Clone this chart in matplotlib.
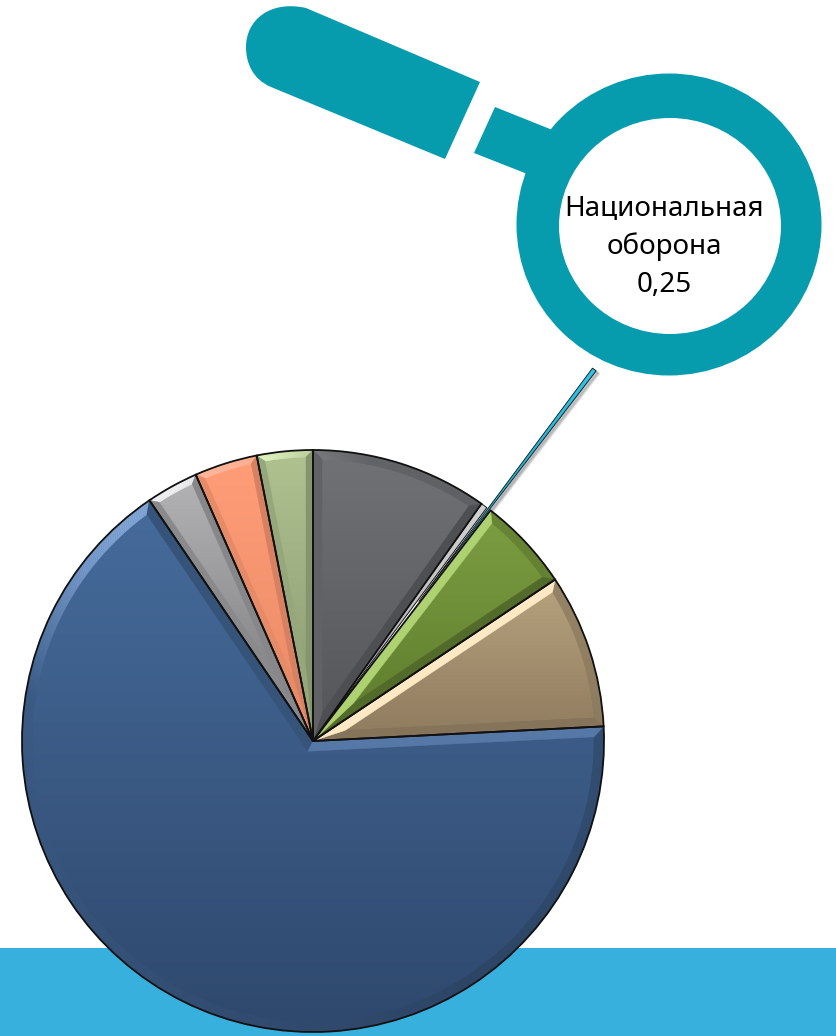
import colorsys
import numpy as np
import matplotlib
matplotlib.use("Agg")
import matplotlib.pyplot as plt
from matplotlib.patches import Ellipse, PathPatch, Polygon, Rectangle, Wedge
from matplotlib.path import Path
import matplotlib.colors as mcolors

W, H = 837, 1036
TEAL = "#069bad"

# Slice shares, clockwise from 12 o'clock
values = [9.83, 0.36, 0.25, 5.20, 8.56, 66.30, 2.90, 3.50, 3.10]
pull_out = [0, 0, 175, 0, 0, 0, 0, 0, 0]
label_lines = ["Национальная", "оборона", "0,25"]

# Gradient colours, top and bottom of each slice
top_colors = ["#717276", "#d2d2d2", "#2cc4e8", "#7d9e42", "#b8a37f", "#466c9c", "#b4b4b6", "#ff9d78", "#b0c290"]
bottom_colors = ["#545558", "#a8a8a8", "#1a9fc4", "#5c7a2c", "#8e7a5d", "#2f486d", "#77777a", "#e88a66", "#87996f"]
bevel_sizes = [9, 0, 0, 9, 9, 10, 7, 7, 7]
edge_widths = [1.3, 0.7, 0.6, 1.3, 1.3, 1.3, 1.3, 1.3, 1.3]


def py(y):
    # picture pixels count from the top
    return H - y


def shade(color, normal_deg):
    # bright band around the upper left, slowly darker away from it
    d = abs((normal_deg - 125 + 180) % 360 - 180)
    s = np.cos(np.radians(2 * d)) if d < 45 else -0.6 * (d - 45) / 135
    h, sat, v = colorsys.rgb_to_hsv(*color)
    if s > 0:
        v = min(v * (1 + 0.6 * s), 1)
        sat = sat * (1 - 0.3 * s)
    else:
        v = v * (1 + 0.4 * s)
    return colorsys.hsv_to_rgb(h, sat, v)


def pt(center, r, deg):
    return center[0] + r * np.cos(np.radians(deg)), center[1] + r * np.sin(np.radians(deg))


def add_bevel(ax, wedge, color, d):
    c, r, t1, t2 = wedge.center, wedge.r, wedge.theta1, wedge.theta2
    half = (t2 - t1) / 2
    apex = pt(c, d / np.sin(np.radians(half)), t1 + half)
    dt = np.degrees(np.arcsin(d / (r - d)))
    a1, a2 = t1 + dt, t2 - dt
    angles = np.linspace(t1, t2, max(int(t2 - t1) * 2, 8))
    inner = np.linspace(a1, a2, len(angles))
    for i in range(len(angles) - 1):
        quad = [pt(c, r, angles[i]), pt(c, r, angles[i + 1]), pt(c, r - d, inner[i + 1]), pt(c, r - d, inner[i])]
        col = shade(color, (angles[i] + angles[i + 1]) / 2)
        ax.add_patch(Polygon(quad, facecolor=col, edgecolor=col, lw=0.3, zorder=4))
    q1 = [c, pt(c, r, t1), pt(c, r - d, a1), apex]
    col1 = shade(color, t1 - 90)
    ax.add_patch(Polygon(q1, facecolor=col1, edgecolor=col1, lw=0.3, zorder=4))
    q2 = [c, pt(c, r, t2), pt(c, r - d, a2), apex]
    col2 = shade(color, t2 + 90)
    ax.add_patch(Polygon(q2, facecolor=col2, edgecolor=col2, lw=0.3, zorder=4))


fig = plt.figure(figsize=(W / 100, H / 100), dpi=100)
ax = fig.add_axes([0, 0, 1, 1])

# bottom band
ax.add_patch(Rectangle((0, 0), W, py(948), facecolor="#38b0de", edgecolor="none", zorder=1))

wedges, _ = ax.pie(values, explode=pull_out, startangle=90, counterclock=False, radius=291,
                   center=(313, py(741)), wedgeprops=dict(facecolor="none", edgecolor="#111111", linewidth=1.3))

for w, top, bottom, d, pull, lw in zip(wedges, top_colors, bottom_colors, bevel_sizes, pull_out, edge_widths):
    w.set_zorder(5)
    w.set_linewidth(lw)
    box = w.get_path().transformed(w.get_patch_transform()).get_extents()
    ramp = mcolors.LinearSegmentedColormap.from_list("r", [top, bottom])
    img = ax.imshow(np.linspace(0, 1, 256).reshape(-1, 1), cmap=ramp, aspect="auto", zorder=3,
                    extent=(box.x0, box.x1, box.y0, box.y1), origin="upper", interpolation="bilinear")
    img.set_clip_path(w)
    if d:
        mid_color = (np.array(mcolors.to_rgb(top)) + np.array(mcolors.to_rgb(bottom))) / 2
        add_bevel(ax, w, mid_color, d)
    if pull:
        # soft shadow under the pulled-out slice
        for off, a in [(3, 0.12), (2, 0.2)]:
            ax.add_patch(Wedge((w.center[0] + off, w.center[1] - off), w.r, w.theta1, w.theta2,
                               facecolor="#555555", edgecolor="#555555", lw=1.5, alpha=a, zorder=2))

# magnifier handle
verts = [(306, 8), (480, 82), (445, 159), (271, 87), (252, 79), (246, 62), (246, 47), (246, 20), (270, 0), (306, 8)]
codes = [Path.MOVETO, Path.LINETO, Path.LINETO, Path.LINETO, Path.CURVE4, Path.CURVE4, Path.CURVE4,
         Path.CURVE4, Path.CURVE4, Path.CURVE4]
ax.add_patch(PathPatch(Path([(x, py(y)) for x, y in verts], codes), facecolor=TEAL, edgecolor="none", zorder=6))
stub = [(495, 107), (560, 133), (535, 177), (474, 153)]
ax.add_patch(Polygon([(x, py(y)) for x, y in stub], facecolor=TEAL, edgecolor="none", zorder=6))

# magnifier ring
ax.add_patch(Ellipse((669, py(224.5)), 305, 302, facecolor=TEAL, edgecolor="none", zorder=7))
ax.add_patch(Ellipse((670, py(226)), 222, 216, facecolor="white", edgecolor="none", zorder=8))

for line, y in zip(label_lines, [208.5, 246.5, 284.5]):
    ax.text(664, py(y), line, ha="center", va="center", fontsize=20, family="Noto Sans", color="black", zorder=9)

ax.set_xlim(0, W)
ax.set_ylim(0, H)
ax.set_aspect("auto")
ax.axis("off")
fig.savefig("out.png", dpi=100, facecolor="white")
